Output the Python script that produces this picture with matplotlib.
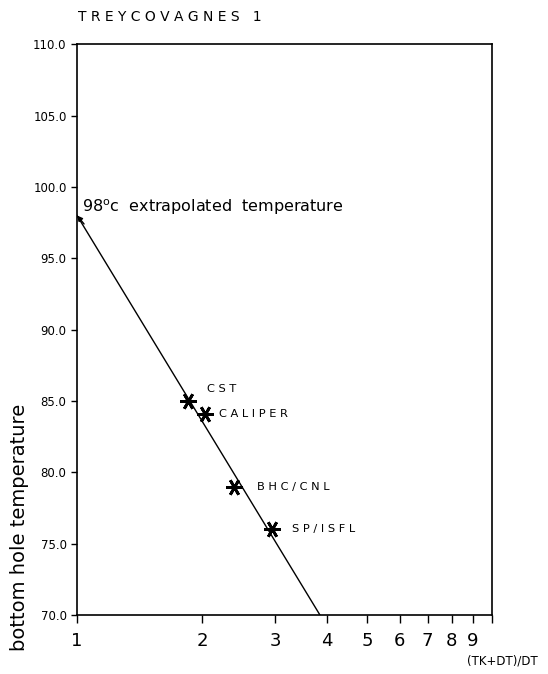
import matplotlib.pyplot as plt
from matplotlib.ticker import FixedLocator, NullLocator

# Horner plot data
logs = ["CST", "CALIPER", "BHC/CNL", "SP/ISFL"]
horner_ratio = [1.85, 2.03, 2.39, 2.95]
bht = [85.0, 84.1, 79.0, 76.0]

# extrapolation line
line_x = [1.0, 3.85]
line_y = [98.0, 70.0]

y_ticks = [70.0, 75.0, 80.0, 85.0, 90.0, 95.0, 100.0, 105.0, 110.0]
x_ticks = [1, 2, 3, 4, 5, 6, 7, 8, 9, 10]
x_labels = ["1", "2", "3", "4", "5", "6", "7", "8", "9", ""]

# label offsets (x factor, y shift)
label_off = {"CST": (1.11, 0.85), "CALIPER": (1.085, 0.0),
             "BHC/CNL": (1.135, -0.05), "SP/ISFL": (1.12, 0.0)}


def spaced(s):
    return " ".join(s)


fig = plt.figure(figsize=(5.48, 6.74), dpi=100)
ax = fig.add_axes([0.1405, 0.0875, 0.7573, 0.847])

ax.plot(line_x, line_y, color="black", linewidth=1.0)
# little arrow head at the extrapolated end
ax.annotate("", xy=(line_x[0], line_y[0]), xytext=(1.04, 97.4),
            arrowprops=dict(arrowstyle="-|>", color="black", lw=1.0,
                            mutation_scale=8, shrinkA=0, shrinkB=0))
ax.plot(horner_ratio, bht, linestyle="none", marker=(6, 2, 90),
        markersize=12, markeredgewidth=2.0, color="black")

for name, x, y in zip(logs, horner_ratio, bht):
    fx, dy = label_off[name]
    ax.text(x * fx, y + dy, spaced(name), fontsize=8.2, va="center")

ax.text(1.03, 98.6, r"98$^{\rm o}$c  extrapolated  temperature",
        fontsize=11.5, va="center")

ax.set_xscale("log")
ax.set_xlim(1, 10)
ax.set_ylim(70, 110)
ax.xaxis.set_major_locator(FixedLocator(x_ticks))
ax.xaxis.set_minor_locator(NullLocator())
ax.set_xticklabels(x_labels, fontsize=13)
ax.set_yticks(y_ticks)
ax.set_yticklabels([f"{t:.1f}" for t in y_ticks], fontsize=8.5)
ax.tick_params(axis="x", direction="out", length=6, width=1, pad=6)
ax.tick_params(axis="y", direction="out", length=4, width=1)
for s in ax.spines.values():
    s.set_linewidth(1.2)

fig.text(0.035, 0.217, "bottom hole temperature", rotation=90,
         fontsize=14, ha="center", va="center")
fig.text(0.853, 0.02, "(TK+DT)/DT", fontsize=8.5, ha="left", va="center")
fig.text(0.143, 0.975, "T R E Y C O V A G N E S   1", fontsize=10,
         ha="left", va="center")

fig.savefig("out.png", dpi=100)
